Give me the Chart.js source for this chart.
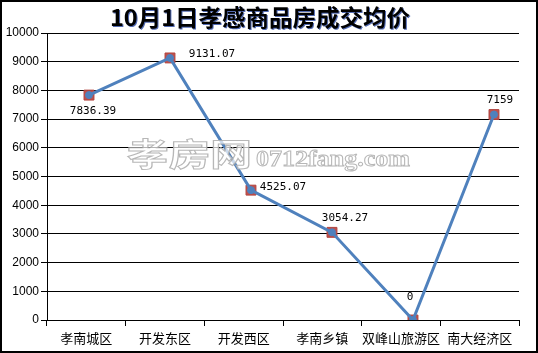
<!DOCTYPE html>
<html>
<head>
<meta charset="utf-8">
<script src="https://cdn.jsdelivr.net/npm/chart.js@4.4.0/dist/chart.umd.min.js"></script>
<style>
    body { margin: 0; background: #fff; }
</style>
</head>
<body>
<canvas id="chart" width="538" height="353"></canvas>
<script>
const chartTitle = '10月1日孝感商品房成交均价';
const districts = ['孝南城区', '开发东区', '开发西区', '孝南乡镇', '双峰山旅游区', '南大经济区'];
const avgPrices = [7836.39, 9131.07, 4525.07, 3054.27, 0, 7159];
const priceLabels = ['7836.39', '9131.07', '4525.07', '3054.27', '0', '7159'];
const yMin = 0;
const yMax = 10000;
const yStep = 1000;

// the line points sit a little right of the category centres in the original,
// so the line uses its own hidden linear axis
const linePoints = avgPrices.map((v, i) => ({ x: i, y: v }));

// label offset from its point (dx, dy), centre of the text
const labelOffsets = [[4, 16], [42, -4], [32, -3], [13, -14], [-3, -23], [6, -14]];

const framePlugin = {
    id: 'frame',
    beforeDraw(chart) {
        const ctx = chart.ctx;
        ctx.save();
        ctx.fillStyle = '#fff';
        ctx.fillRect(0, 0, chart.width, chart.height);
        ctx.restore();
    },
    afterDraw(chart) {
        const ctx = chart.ctx;
        ctx.save();
        // title
        ctx.font = 'bold 23px "Noto Sans CJK SC"';
        ctx.textAlign = 'center';
        ctx.textBaseline = 'middle';
        ctx.shadowColor = 'rgba(40,70,160,0.8)';
        ctx.shadowOffsetX = 1;
        ctx.shadowOffsetY = 1;
        ctx.fillStyle = '#000';
        const tw = ctx.measureText(chartTitle).width;
        ctx.translate(260, 17);
        ctx.scale(300 / tw, 1);
        ctx.fillText(chartTitle, 0, 0);
        ctx.restore();

        ctx.save();
        ctx.strokeStyle = '#000';
        ctx.lineWidth = 2;
        ctx.strokeRect(1, 1, chart.width - 2, chart.height - 2);
        ctx.restore();
    }
};

const watermarkPlugin = {
    id: 'watermark',
    afterDatasetsDraw(chart) {
        const ctx = chart.ctx;
        ctx.save();
        ctx.fillStyle = 'rgba(255,255,255,0.7)';
        ctx.strokeStyle = 'rgba(175,175,175,0.9)';
        ctx.lineWidth = 1;
        ctx.textBaseline = 'middle';
        ctx.textAlign = 'left';

        ctx.font = 'bold 32px "Noto Sans CJK SC"';
        let w = ctx.measureText('孝房网').width;
        ctx.save();
        ctx.translate(127, 154);
        ctx.scale(125 / w, 1);
        ctx.fillText('孝房网', 0, 0);
        ctx.strokeText('孝房网', 0, 0);
        ctx.restore();

        ctx.font = 'bold 24px "Liberation Serif"';
        w = ctx.measureText('0712fang.com').width;
        ctx.save();
        ctx.translate(256, 160);
        ctx.scale(154 / w, 1);
        ctx.fillText('0712fang.com', 0, 0);
        ctx.strokeText('0712fang.com', 0, 0);
        ctx.restore();
        ctx.restore();
    }
};

const valueLabelPlugin = {
    id: 'valueLabels',
    afterDraw(chart) {
        const ctx = chart.ctx;
        const meta = chart.getDatasetMeta(1);
        ctx.save();
        ctx.font = '11px "DejaVu Sans Mono"';
        ctx.fillStyle = '#000';
        ctx.textAlign = 'center';
        ctx.textBaseline = 'middle';
        meta.data.forEach((pt, i) => {
            const off = labelOffsets[i];
            ctx.fillText(priceLabels[i], pt.x + off[0], pt.y + off[1]);
        });
        ctx.restore();
    }
};

const ctx = document.getElementById('chart').getContext('2d');
const chart = new Chart(ctx, {
    type: 'line',
    data: {
        labels: districts,
        datasets: [{
            label: 'markers',
            data: linePoints,
            xAxisID: 'xLine',
            showLine: false,
            pointStyle: 'rect',
            pointRadius: 7,
            pointHoverRadius: 7,
            pointBackgroundColor: '#c0504d',
            pointBorderColor: '#b0443f',
            pointBorderWidth: 1,
            order: 2
        }, {
            label: '均价',
            data: linePoints,
            xAxisID: 'xLine',
            borderColor: '#4f81bd',
            borderWidth: 3,
            tension: 0,
            pointStyle: 'circle',
            pointRadius: 3.5,
            pointBackgroundColor: '#4f81bd',
            pointBorderColor: '#4f81bd',
            pointBorderWidth: 1,
            order: 1
        }]
    },
    options: {
        responsive: false,
        animation: false,
        events: [],
        layout: {
            padding: { left: 0, right: 19, top: 33, bottom: 0 }
        },
        plugins: {
            legend: { display: false },
            title: { display: false },
            tooltip: { enabled: false }
        },
        scales: {
            x: {
                type: 'category',
                offset: true,
                grid: {
                    offset: true,
                    drawOnChartArea: false,
                    drawTicks: true,
                    tickLength: 6,
                    color: '#000'
                },
                border: { color: '#000', width: 1 },
                ticks: {
                    color: '#000',
                    padding: 4,
                    maxRotation: 0,
                    autoSkip: false,
                    font: { family: '"Noto Sans CJK SC"', size: 13 }
                },
                afterFit(scale) {
                    scale.height = 33;
                }
            },
            xLine: {
                type: 'linear',
                display: false,
                min: -0.5185,
                max: 5.309
            },
            y: {
                min: yMin,
                max: yMax,
                grid: {
                    color: '#000',
                    lineWidth: 1,
                    tickLength: 6
                },
                border: { color: '#000', width: 1 },
                ticks: {
                    stepSize: yStep,
                    color: '#000',
                    padding: 2,
                    font: { family: '"Liberation Sans"', size: 12 },
                    callback: (value) => String(value)
                },
                afterFit(scale) {
                    scale.width = 47;
                }
            }
        }
    },
    plugins: [framePlugin, watermarkPlugin, valueLabelPlugin]
});
</script>
</body>
</html>
